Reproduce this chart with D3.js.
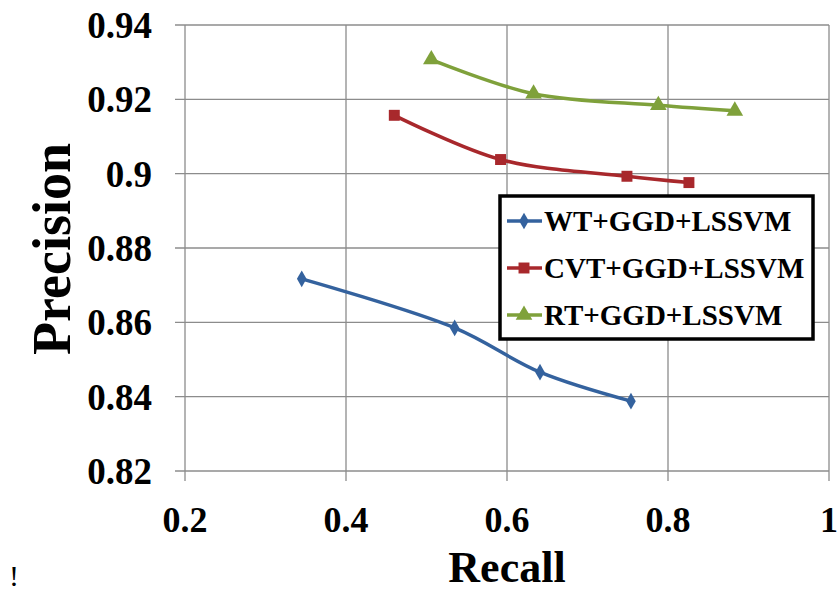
<!DOCTYPE html>
<html lang="en">
    <head>
        <meta charset="utf-8">
        <title>Precision vs Recall</title>
        <script type="text/javascript" src="https://d3js.org/d3.v7.min.js"></script>
        <style type="text/css">
            body { margin: 0; background: #fff; }
            svg text { font-family: "Liberation Serif", "Times New Roman", serif; font-weight: bold; fill: #000; }
        </style>
    </head>
    <body>
        <script type="text/javascript">

            // Datos
            var seriesNames = ["WT+GGD+LSSVM", "CVT+GGD+LSSVM", "RT+GGD+LSSVM"];
            var wtRecall  = [0.345, 0.535, 0.641, 0.754];
            var wtPrec    = [0.8717, 0.8585, 0.8466, 0.8388];
            var cvtRecall = [0.460, 0.592, 0.749, 0.826];
            var cvtPrec   = [0.9157, 0.9038, 0.8993, 0.8976];
            var rtRecall  = [0.506, 0.633, 0.788, 0.883];
            var rtPrec    = [0.9307, 0.9215, 0.9184, 0.9169];
            var xTicks = [0.2, 0.4, 0.6, 0.8, 1];
            var xTickLabels = ["0.2", "0.4", "0.6", "0.8", "1"];
            var yTicks = [0.82, 0.84, 0.86, 0.88, 0.9, 0.92, 0.94];
            var yTickLabels = ["0.82", "0.84", "0.86", "0.88", "0.9", "0.92", "0.94"];

            var colors = ["#34629E", "#A8282C", "#7FA13B"];
            var symbols = [d3.symbolDiamond, d3.symbolSquare, d3.symbolTriangle];
            var symSizes = [80, 120, 120];

            var series = [
                { name: seriesNames[0], x: wtRecall,  y: wtPrec },
                { name: seriesNames[1], x: cvtRecall, y: cvtPrec },
                { name: seriesNames[2], x: rtRecall,  y: rtPrec }
            ];

            var w = 838, h = 592;
            var plotLeft = 185, plotRight = 829, plotTop = 25, plotBottom = 471;

            var svg = d3.select("body").append("svg")
                .attr("width", w)
                .attr("height", h);

            // Escalas
            var xScale = d3.scaleLinear().domain([0.2, 1]).range([plotLeft, plotRight]);
            var yScale = d3.scaleLinear().domain([0.82, 0.94]).range([plotBottom, plotTop]);

            // Rejilla horizontal (con marca hacia fuera)
            svg.append("g").selectAll("line")
                .data(yTicks)
                .enter().append("line")
                .attr("x1", plotLeft - 10)
                .attr("x2", plotRight)
                .attr("y1", function(d) { return yScale(d); })
                .attr("y2", function(d) { return yScale(d); })
                .attr("stroke", "#8c8c8c")
                .attr("stroke-width", 1.3);

            // Rejilla vertical
            svg.append("g").selectAll("line")
                .data(xTicks)
                .enter().append("line")
                .attr("x1", function(d) { return xScale(d); })
                .attr("x2", function(d) { return xScale(d); })
                .attr("y1", plotTop)
                .attr("y2", plotBottom + 10)
                .attr("stroke", "#8c8c8c")
                .attr("stroke-width", 1.3);

            // Etiquetas eje Y
            svg.append("g").selectAll("text")
                .data(yTicks)
                .enter().append("text")
                .attr("x", 152)
                .attr("y", function(d) { return yScale(d); })
                .attr("dy", "0.35em")
                .attr("text-anchor", "end")
                .style("font-size", "37px")
                .text(function(d, i) { return yTickLabels[i]; });

            // Etiquetas eje X
            svg.append("g").selectAll("text")
                .data(xTicks)
                .enter().append("text")
                .attr("x", function(d) { return xScale(d); })
                .attr("y", 532)
                .attr("text-anchor", "middle")
                .style("font-size", "36px")
                .text(function(d, i) { return xTickLabels[i]; });

            // Titulos de ejes
            svg.append("text")
                .attr("transform", "translate(70,249) rotate(-90)")
                .attr("text-anchor", "middle")
                .style("font-size", "54px")
                .text("Precision");

            svg.append("text")
                .attr("x", 507)
                .attr("y", 582)
                .attr("text-anchor", "middle")
                .style("font-size", "44px")
                .text("Recall");

            svg.append("text")
                .attr("x", 14)
                .attr("y", 586)
                .attr("text-anchor", "middle")
                .style("font-size", "30px")
                .style("font-weight", "normal")
                .text("!");

            // Lineas suavizadas
            var line = d3.line()
                .x(function(d) { return xScale(d[0]); })
                .y(function(d) { return yScale(d[1]); })
                .curve(d3.curveCatmullRom.alpha(0.5));

            series.forEach(function(s, k) {
                var pts = s.x.map(function(v, i) { return [v, s.y[i]]; });

                svg.append("path")
                    .datum(pts)
                    .attr("d", line)
                    .attr("fill", "none")
                    .attr("stroke", colors[k])
                    .attr("stroke-width", 3.5);

                svg.append("g").selectAll("path")
                    .data(pts)
                    .enter().append("path")
                    .attr("transform", function(d) {
                        return "translate(" + xScale(d[0]) + "," + yScale(d[1]) + ")";
                    })
                    .attr("d", d3.symbol().type(symbols[k]).size(symSizes[k]))
                    .attr("fill", colors[k]);
            });

            // Leyenda
            var legend = svg.append("g");
            legend.append("rect")
                .attr("x", 500)
                .attr("y", 196)
                .attr("width", 313)
                .attr("height", 143)
                .attr("fill", "#fff")
                .attr("stroke", "#000")
                .attr("stroke-width", 3.5);

            series.forEach(function(s, k) {
                var cy = 221 + k * 47;
                legend.append("line")
                    .attr("x1", 507)
                    .attr("x2", 542)
                    .attr("y1", cy)
                    .attr("y2", cy)
                    .attr("stroke", colors[k])
                    .attr("stroke-width", 3.5);
                legend.append("path")
                    .attr("transform", "translate(524," + cy + ")")
                    .attr("d", d3.symbol().type(symbols[k]).size(symSizes[k]))
                    .attr("fill", colors[k]);
                legend.append("text")
                    .attr("x", 544)
                    .attr("y", cy + 10)
                    .style("font-size", "29px")
                    .text(s.name);
            });
        </script>
    </body>
</html>
